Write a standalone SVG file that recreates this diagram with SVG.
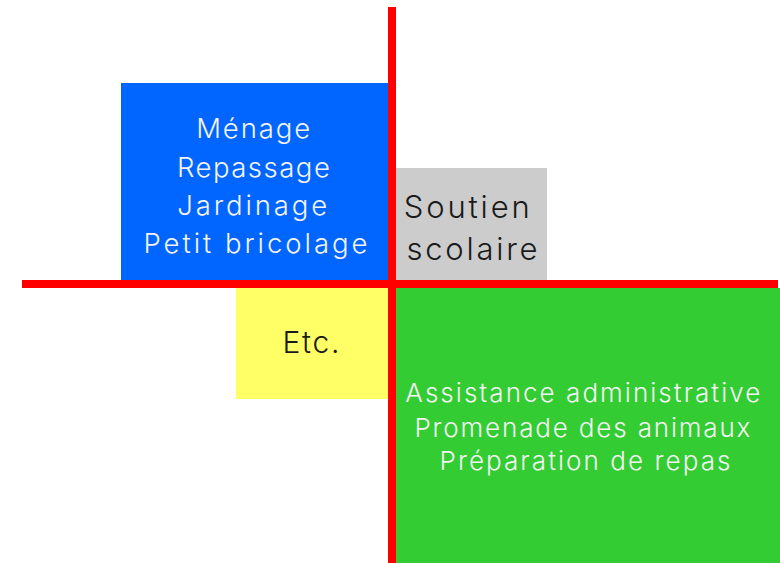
<svg xmlns="http://www.w3.org/2000/svg" width="780" height="563" viewBox="0 0 780 563">
<style>
  text { font-family: Inter, "Liberation Sans", Arial, sans-serif; font-weight: 300; text-anchor: middle; }
  .light { fill: #f4f4f4; }
  .dark { fill: #1a1a1a; }
  .axis { fill: #ff0000; }
</style>
<rect width="780" height="563" fill="#ffffff"/>
<g id="menage">
  <rect x="121" y="83" width="267" height="197" fill="#0066ff"/>
  <text class="light" font-size="27.5">
    <tspan x="258" y="138" textLength="114" lengthAdjust="spacing">Ménage</tspan>
    <tspan x="258" y="176.5" textLength="153" lengthAdjust="spacing">Repassage</tspan>
    <tspan x="257.5" y="215" textLength="150" lengthAdjust="spacing">Jardinage</tspan>
    <tspan x="255.5" y="253" textLength="224" lengthAdjust="spacing">Petit bricolage</tspan>
  </text>
</g>
<g id="soutien">
  <rect x="396" y="168" width="151" height="112" fill="#cccccc"/>
  <text class="dark" font-size="31">
    <tspan x="472.5" y="218" textLength="126" lengthAdjust="spacing">Soutien</tspan>
    <tspan x="472" y="260" textLength="131" lengthAdjust="spacing">scolaire</tspan>
  </text>
</g>
<g id="etc">
  <rect x="236" y="288" width="152" height="111" fill="#ffff66"/>
  <text class="dark" font-size="30" x="311" y="353" textLength="57" lengthAdjust="spacing">Etc.</text>
</g>
<g id="assistance">
  <rect x="396" y="288" width="384" height="275" fill="#33cc33"/>
  <text class="light" font-size="26">
    <tspan x="587.5" y="401.5" textLength="355" lengthAdjust="spacing">Assistance administrative</tspan>
    <tspan x="587" y="436.5" textLength="336" lengthAdjust="spacing">Promenade des animaux</tspan>
    <tspan x="585" y="470" textLength="291" lengthAdjust="spacing">Préparation de repas</tspan>
  </text>
</g>
<g id="connectors">
  <rect class="axis" x="388" y="7" width="8" height="556"/>
  <rect class="axis" x="22" y="280" width="756" height="8"/>
</g>
</svg>
